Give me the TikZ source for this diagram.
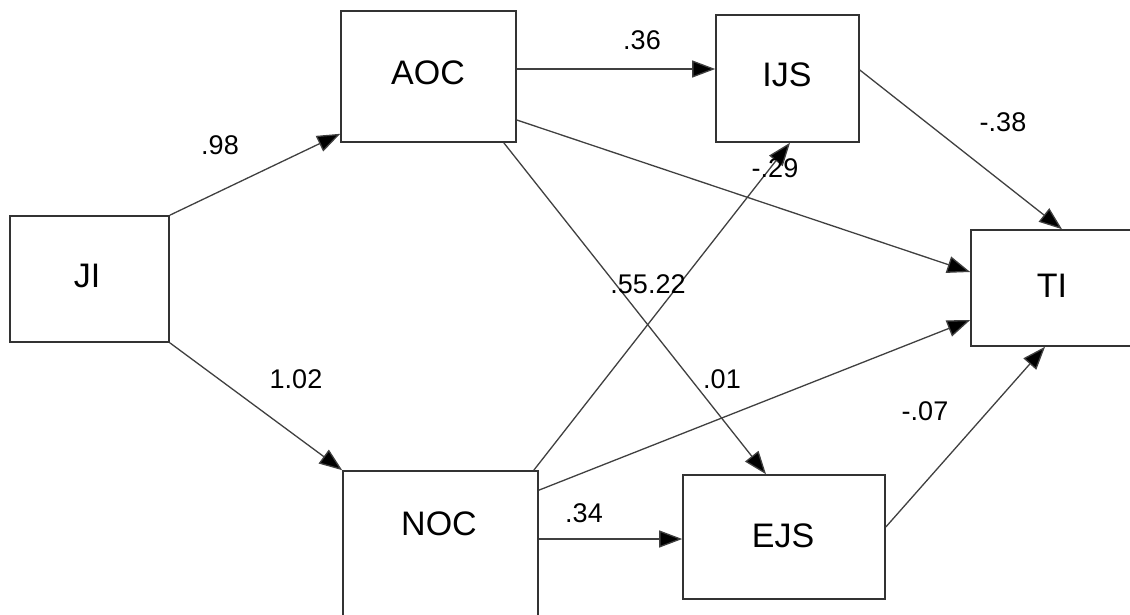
\documentclass[tikz,border=0pt]{standalone}
\usepackage{fontspec}
\setmainfont{Liberation Sans}
\usetikzlibrary{arrows.meta,calc}
\begin{document}
\begin{tikzpicture}[x=1pt,y=-1pt,
  varbox/.style={draw=black!80,line width=1.6pt,fill=white,inner sep=0pt},
  vartext/.style={anchor=base,inner sep=0pt,font=\fontsize{34}{40}\selectfont},
  coef/.style={anchor=base,inner sep=0pt,font=\fontsize{27}{32}\selectfont},
  path/.style={draw=black!75,line width=1.3pt,-{Triangle[length=23pt,width=17pt,fill=black]}}]
\useasboundingbox (0,0) rectangle (1130,615);
\clip (0,0) rectangle (1130,615);
\fill[white] (0,0) rectangle (1130,615);

% latent variables
\node[varbox,minimum width=159pt,minimum height=126pt] (JI)  at (89.5,279) {};
\node[varbox,minimum width=175pt,minimum height=131pt] (AOC) at (428.5,76.5) {};
\node[varbox,minimum width=143pt,minimum height=127pt] (IJS) at (787.5,78.5) {};
\node[varbox,minimum width=169pt,minimum height=116pt] (TI)  at (1055.5,288) {};
\node[varbox,minimum width=195pt,minimum height=169pt] (NOC) at (440.5,555.5) {};
\node[varbox,minimum width=202pt,minimum height=124pt] (EJS) at (784,537) {};

\node[vartext] (tJI)  at (87,287)  {JI};
\node[vartext] (tAOC) at (428,85)  {AOC};
\node[vartext] (tIJS) at (787,87)  {IJS};
\node[vartext] (tTI)  at (1052,297) {TI};
\node[vartext] (tNOC) at (439,535) {NOC};
\node[vartext] (tEJS) at (783,547) {EJS};

% structural paths
\draw[path] (JI.north east) -- ($(AOC.south west)+(0,-9)$);
\draw[path] (JI.south east) -- (NOC.north west);
\draw[path] ($(AOC.east)+(0,-7.5)$) -- ($(IJS.west)+(0,-9.5)$);
\draw[path] ($(AOC.east)+(0,43.5)$) -- ($(TI.west)+(0,-16)$);
\draw[path] ($(AOC.south east)+(-13,0)$) -- ($(EJS.north)+(-18,0)$);
\draw[path] ($(IJS.east)+(0,-8.5)$) -- ($(TI.north)+(6.5,0)$);
\draw[path] ($(NOC.north east)+(-5,0)$) -- ($(IJS.south)+(2.5,0)$);
\draw[path] ($(NOC.north east)+(0,20)$) -- ($(TI.west)+(0,32)$);
\draw[path] ($(NOC.east)+(0,-16.5)$) -- ($(EJS.west)+(0,2)$);
\draw[path] ($(EJS.east)+(0,-10)$) -- ($(TI.south)+(-10.5,0)$);

% path coefficients
\node[coef] (c1) at (220,155) {.98};
\node[coef] (c2) at (296,388) {1.02};
\node[coef] (c3) at (642,50)  {.36};
\node[coef] (c4) at (1003,132) {-.38};
\node[coef] (c5) at (775,177) {-.29};
\node[coef,anchor=base east] (c6) at (648,293) {.55};
\node[coef,anchor=base west] (c7) at (648,293) {.22};
\node[coef] (c8) at (722,388) {.01};
\node[coef] (c9) at (925,420) {-.07};
\node[coef] (c10) at (584,522) {.34};
\end{tikzpicture}
\end{document}
